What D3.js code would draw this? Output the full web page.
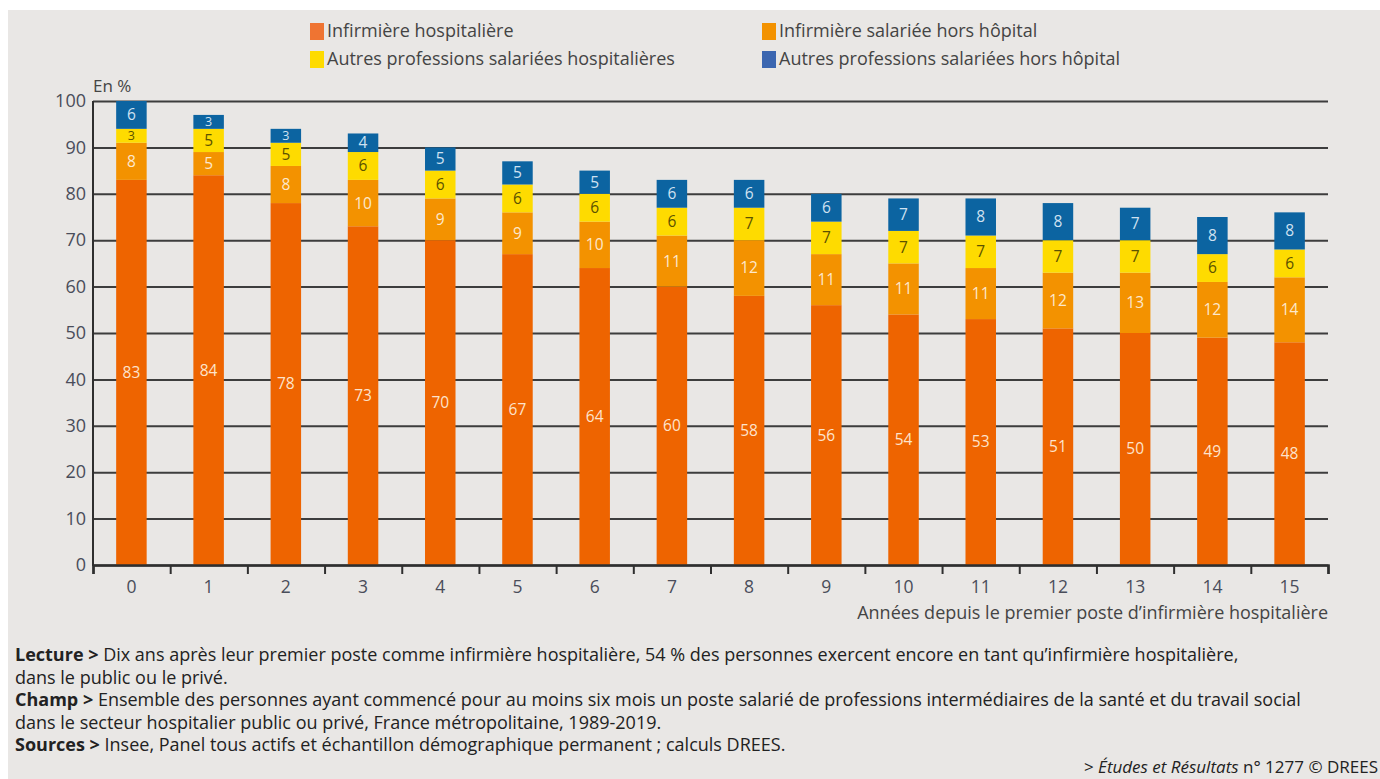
<!DOCTYPE html>
<html>
<head>
<meta charset="utf-8">
<script src="https://cdn.jsdelivr.net/npm/d3@7"></script>
<style>
  html, body { margin: 0; padding: 0; background: #fff; }
  svg { display: block; font-family: "Open Sans", Lato, sans-serif; }
</style>
</head>
<body>
<script>
// Data
const years = ["0","1","2","3","4","5","6","7","8","9","10","11","12","13","14","15"];
const infHosp = [83,84,78,73,70,67,64,60,58,56,54,53,51,50,49,48];
const infHors = [8,5,8,10,9,9,10,11,12,11,11,11,12,13,12,14];
const autresHosp = [3,5,5,6,6,6,6,6,7,7,7,7,7,7,6,6];
const autresHors = [6,3,3,4,5,5,5,6,6,6,7,8,8,7,8,8];
const yTicks = [0,10,20,30,40,50,60,70,80,90,100];

const seriesNames = [
  "Infirmière hospitalière",
  "Infirmière salariée hors hôpital",
  "Autres professions salariées hospitalières",
  "Autres professions salariées hors hôpital"
];
const seriesColors = ["#ee6400", "#f39200", "#fedb00", "#0c64a1"];
const labelColors = ["#fde3cc", "#fde8cc", "#5c5200", "#cfe1f1"];

const w = 1380, h = 779;
const plotL = 93, plotR = 1328, plotT = 101, plotB = 565;

const rows = years.map((y, i) => ({
  year: y,
  s0: infHosp[i], s1: infHors[i], s2: autresHosp[i], s3: autresHors[i]
}));
const stack = d3.stack().keys(["s0","s1","s2","s3"])(rows);

const svg = d3.select("body").append("svg")
  .attr("width", w)
  .attr("height", h);

// grey panel with thin white margin at top/left
svg.append("rect")
  .attr("x", 8).attr("y", 10)
  .attr("width", w - 8).attr("height", h - 10)
  .attr("fill", "#e9e7e5");

// scales
const x = d3.scaleBand()
  .domain(years)
  .range([plotL, plotR])
  .paddingInner(0.605)
  .paddingOuter(0.3);

const xEdges = d3.scaleLinear()
  .domain([0, years.length])
  .range([plotL, plotR]);

const y = d3.scaleLinear()
  .domain([0, 100])
  .range([plotB, plotT]);

// gridlines + y labels
const yAxis = svg.append("g")
  .attr("transform", `translate(${plotL},0)`)
  .call(d3.axisLeft(y)
    .tickValues(yTicks)
    .tickSize(-(plotR - plotL))
    .tickPadding(7));
yAxis.select(".domain").remove();
yAxis.selectAll(".tick line")
  .attr("stroke", "#3d3d3d")
  .attr("stroke-width", 2);
yAxis.selectAll(".tick text")
  .attr("fill", "#4a4d5a")
  .attr("font-size", 18)
  .attr("font-family", "'Open Sans', sans-serif");

// y axis vertical line
svg.append("line")
  .attr("x1", plotL).attr("x2", plotL)
  .attr("y1", plotT).attr("y2", plotB + 1)
  .attr("stroke", "#2f2f2f")
  .attr("stroke-width", 2);

// bars
const layers = svg.append("g").selectAll("g")
  .data(stack)
  .join("g")
  .attr("fill", (d, i) => seriesColors[i]);

layers.selectAll("rect")
  .data(d => d)
  .join("rect")
  .attr("x", d => x(d.data.year))
  .attr("y", d => y(d[1]))
  .attr("width", x.bandwidth())
  .attr("height", d => y(d[0]) - y(d[1]));

// segment labels (smaller type in very thin segments)
stack.forEach((layer, i) => {
  svg.append("g").selectAll("text")
    .data(layer)
    .join("text")
    .attr("x", d => x(d.data.year) + x.bandwidth() / 2)
    .attr("y", d => y((d[0] + d[1]) / 2))
    .attr("dy", "0.35em")
    .attr("text-anchor", "middle")
    .attr("font-size", d => (y(d[0]) - y(d[1])) < 16 ? 12.5 : 15.5)
    .attr("fill", labelColors[i])
    .text(d => d[1] - d[0]);
});

// x axis: boundary ticks + centered labels
const xAxis = svg.append("g")
  .attr("transform", `translate(0,${plotB})`)
  .call(d3.axisBottom(xEdges)
    .tickValues(d3.range(years.length + 1))
    .tickSize(9)
    .tickFormat(""));
xAxis.select(".domain")
  .attr("stroke", "#2f2f2f")
  .attr("stroke-width", 2.5);
xAxis.selectAll(".tick line")
  .attr("stroke", "#2f2f2f")
  .attr("stroke-width", 2);

const xLabels = svg.append("g")
  .attr("transform", `translate(0,${plotB})`)
  .call(d3.axisBottom(x).tickSize(0).tickPadding(16));
xLabels.select(".domain").remove();
xLabels.selectAll(".tick text")
  .attr("fill", "#4a4d5a")
  .attr("font-size", 17.5)
  .attr("font-family", "'Open Sans', sans-serif");

// axis titles
svg.append("text")
  .attr("x", plotR)
  .attr("y", 619)
  .attr("text-anchor", "end")
  .attr("font-size", 18)
  .attr("fill", "#444")
  .text("Années depuis le premier poste d’infirmière hospitalière");

svg.append("text")
  .attr("x", plotL)
  .attr("y", 92)
  .attr("font-size", 17)
  .attr("fill", "#444")
  .text("En %");

// legend
const legendPos = [[310, 31], [762, 31], [310, 59], [762, 59]];
seriesNames.forEach((name, i) => {
  const g = svg.append("g")
    .attr("transform", `translate(${legendPos[i][0]},${legendPos[i][1]})`);
  g.append("rect")
    .attr("x", 0).attr("y", -8)
    .attr("width", 14).attr("height", 17)
    .attr("fill", i === 3 ? "#3b66b0" : (i === 0 ? "#ef7432" : seriesColors[i]));
  g.append("text")
    .attr("x", 17)
    .attr("dy", "0.35em")
    .attr("font-size", 18)
    .attr("fill", "#444")
    .text(name);
});

// notes
const notes = [
  ["Lecture > ", "Dix ans après leur premier poste comme infirmière hospitalière, 54 % des personnes exercent encore en tant qu’infirmière hospitalière,"],
  ["", "dans le public ou le privé."],
  ["Champ > ", "Ensemble des personnes ayant commencé pour au moins six mois un poste salarié de professions intermédiaires de la santé et du travail social"],
  ["", "dans le secteur hospitalier public ou privé, France métropolitaine, 1989-2019."],
  ["Sources > ", "Insee, Panel tous actifs et échantillon démographique permanent ; calculs DREES."]
];
notes.forEach((n, i) => {
  const t = svg.append("text")
    .attr("x", 15)
    .attr("y", 661 + i * 22.5)
    .attr("font-size", 18)
    .attr("fill", "#222");
  if (n[0]) t.append("tspan").attr("font-weight", "bold").text(n[0]);
  t.append("tspan").text(n[1]);
});

const credit = svg.append("text")
  .attr("x", 1378)
  .attr("y", 773)
  .attr("text-anchor", "end")
  .attr("font-size", 17)
  .attr("fill", "#222");
credit.append("tspan").text("> ");
credit.append("tspan").attr("font-style", "italic").text("Études et Résultats");
credit.append("tspan").text(" n° 1277 © DREES");
</script>
</body>
</html>
